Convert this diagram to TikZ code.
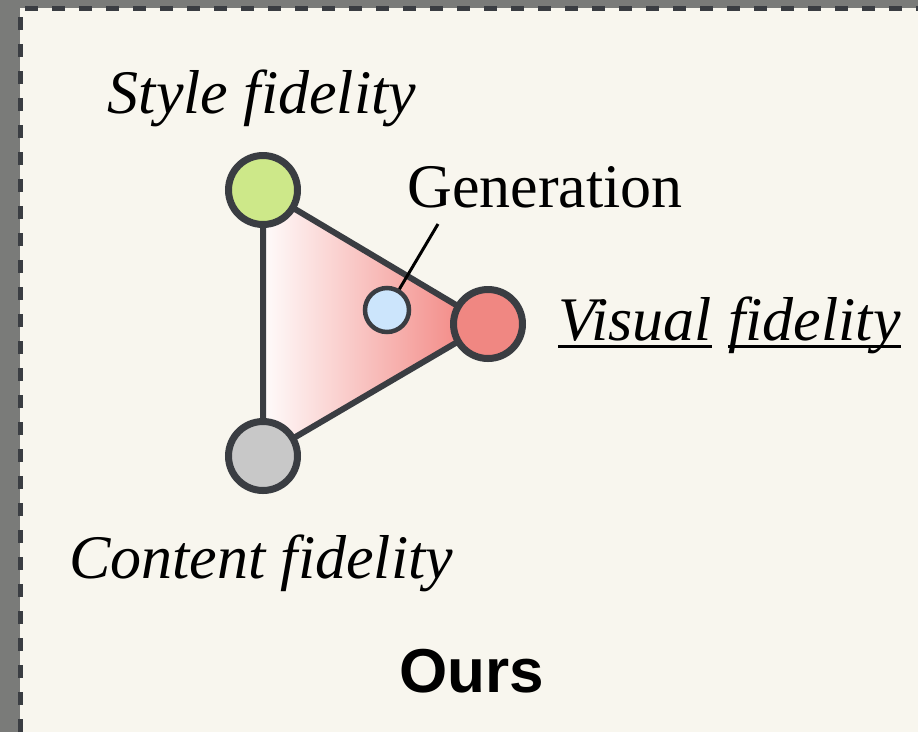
\documentclass[tikz,border=0pt]{standalone}
\usepackage{fontspec}
\setmainfont{Liberation Serif}
\setsansfont{Liberation Sans}

\definecolor{paper}{HTML}{F8F6EE}
\definecolor{strip}{HTML}{7A7B79}
\definecolor{rim}{HTML}{3A3D42}
\definecolor{stylegreen}{HTML}{CDE889}
\definecolor{visualred}{HTML}{F08782}
\definecolor{contentgray}{HTML}{C8C8C8}
\definecolor{genblue}{HTML}{CCE5FC}

\def \bigdot {69pt}
\def \smalldot {44pt}
\def \labelsize {\fontsize{62}{70}\selectfont}

\pgfdeclarelayer{back}
\pgfsetlayers{back,main}

\tikzset{
  corner/.style={draw=rim, line width=7pt, circle, minimum size=\bigdot, inner sep=0pt},
  probe/.style={draw=rim, line width=4.5pt, circle, minimum size=\smalldot, inner sep=0pt},
  caption/.style={inner sep=0pt, anchor=base, font=\labelsize},
  uline/.style={line width=3pt, black},
}

\begin{document}
\begin{tikzpicture}[x=1pt, y=-1pt]
\useasboundingbox (0,0) rectangle (918,732);

% the three fidelities and the generation point
\node (sty) at (263,190) [corner, fill=stylegreen] {};
\node (vis) at (488,324) [corner, fill=visualred] {};
\node (con) at (263,456) [corner, fill=contentgray] {};
\node (gen) at (387,310) [probe, fill=genblue] {};

\begin{pgfonlayer}{back}
\fill[strip] (0,0) rectangle (918,732);
\fill[paper] (20,8) rectangle (918,732);
\draw[rim, line width=5pt, dash pattern=on 13pt off 14pt] (20,732) -- (20,8) -- (918,8);
% triangle, pale on the left, red towards visual
\shade[left color=white!97!visualred, right color=visualred!92!red] (sty.center) -- (vis.center) -- (con.center) -- cycle;
\draw[rim, line width=6pt, line join=round] (sty.center) -- (vis.center) -- (con.center) -- cycle;
\end{pgfonlayer}

% labels
\node (stylab) at (262,113) [caption] {\itshape Style fidelity};
\node (conlab) at (261,578) [caption] {\itshape Content fidelity};
\node (genlab) at (545,207) [caption] {Generation};
\node (ours) at (472,692) [caption] {\sffamily\bfseries Ours};

\node (viw) at (558,340) [caption, anchor=base west] {\itshape Visual};
\node (fiw) at ([xshift=16pt]viw.base east) [caption, anchor=base west] {\itshape fidelity};
\draw[uline] ([yshift=-6.5pt]viw.base west) -- ([yshift=-6.5pt]viw.base east);
\draw[uline] ([yshift=-6.5pt]fiw.base west) -- ([yshift=-6.5pt]fiw.base east);

% leader from the generation point
\coordinate (gentip) at (438,224);
\draw[black, line width=3pt] (gen) -- (gentip);
\end{tikzpicture}
\end{document}
